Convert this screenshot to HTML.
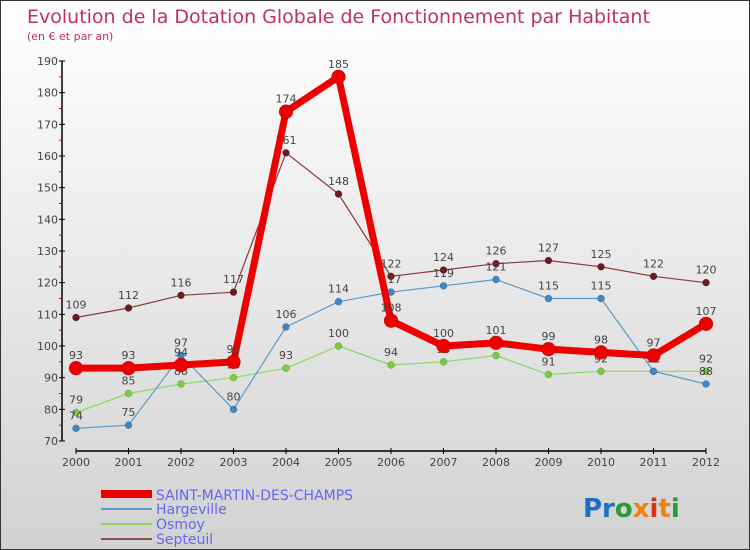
<!DOCTYPE html>
<html><head><meta charset="utf-8"><style>
body{margin:0}
#c{width:748px;height:548px;border:1px solid #333;background:linear-gradient(#ffffff,#d2d2d2);position:relative;font-family:"DejaVu Sans","Liberation Sans",sans-serif;overflow:hidden}
svg text{font-family:"DejaVu Sans","Liberation Sans",sans-serif}
</style></head><body>
<div id="c">
<svg id="s" width="748" height="548">
<text x="26" y="22" font-size="19" fill="#c03060">Evolution de la Dotation Globale de Fonctionnement par Habitant</text>
<text x="26" y="39" font-size="11" fill="#c03060">(en € et par an)</text>
<g id="axes"></g><g id="series"></g>
<g>
<rect x="100" y="489" width="51" height="8" fill="#ee0000"/>
<text x="155" y="499" font-size="14" fill="#6666ee">SAINT-MARTIN-DES-CHAMPS</text>
<line x1="100" y1="508" x2="151" y2="508" stroke="#5b9ac8" stroke-width="2"/>
<text x="155" y="513" font-size="14" fill="#6666ee">Hargeville</text>
<line x1="100" y1="523" x2="151" y2="523" stroke="#8ed860" stroke-width="2"/>
<text x="155" y="528" font-size="14" fill="#6666ee">Osmoy</text>
<line x1="100" y1="538" x2="151" y2="538" stroke="#8a5050" stroke-width="2"/>
<text x="155" y="543" font-size="14" fill="#6666ee">Septeuil</text>
</g>
<text x="582" y="516" font-size="26" font-family="Liberation Sans" font-weight="bold"><tspan fill="#1a70c8">Pr</tspan><tspan fill="#2a9a3a">o</tspan><tspan fill="#f08010">x</tspan><tspan fill="#e03010">i</tspan><tspan fill="#f08010">t</tspan><tspan fill="#2a9a3a">i</tspan></text>
</svg></div>
<script>
const years=["2000","2001","2002","2003","2004","2005","2006","2007","2008","2009","2010","2011","2012"];
const yTicks=[70,80,90,100,110,120,130,140,150,160,170,180,190];
const saint=[93,93,94,95,174,185,108,100,101,99,98,97,107];
const harge=[74,75,97,80,106,114,117,119,121,115,115,92,88];
const osmoy=[79,85,88,90,93,100,94,95,97,91,92,92,92];
const septeuil=[109,112,116,117,161,148,122,124,126,127,125,122,120];
const NS="http://www.w3.org/2000/svg";
const X=i=>75+i*52.5, Y=v=>440-(v-70)*(380/120);
function mk(t,a,p){const e=document.createElementNS(NS,t);for(const k in a)e.setAttribute(k,a[k]);p.appendChild(e);return e;}
const ax=document.getElementById('axes');
let l=mk('line',{x1:61,y1:60,x2:61,y2:440,stroke:'#000','stroke-width':1.5},ax);


l=mk('line',{x1:75,y1:450,x2:705,y2:450,stroke:'#000','stroke-width':1.5},ax);


yTicks.forEach((v,i)=>{mk('line',{x1:58,y1:Y(v),x2:64,y2:Y(v),stroke:'#000'},ax);
 if(i<yTicks.length-1)mk('line',{x1:58,y1:Y(v+5),x2:61,y2:Y(v+5),stroke:'#e00'},ax);
 const t=mk('text',{x:57,y:Y(v)+4,'font-size':11,fill:'#444','text-anchor':'end'},ax);t.textContent=v;
 
 });
years.forEach((y,i)=>{mk('line',{x1:X(i),y1:447,x2:X(i),y2:453,stroke:'#000'},ax);
 const t=mk('text',{x:X(i),y:465,'font-size':11,fill:'#444','text-anchor':'middle'},ax);t.textContent=y;
 
 });
const sg=document.getElementById('series');
function draw(data,name,color,w,r,dot){
 const g=mk('g',{},sg);
 
 
 mk('polyline',{points:data.map((v,i)=>X(i)+','+Y(v)).join(' '),fill:'none',stroke:color,'stroke-width':w,'stroke-linejoin':'round'},g);
 data.forEach((v,i)=>{const c=mk('circle',{cx:X(i),cy:Y(v),r:r,fill:dot,stroke:'rgba(0,0,0,0.3)','stroke-width':0.5},g);
  
  
  const t=mk('text',{x:X(i),y:Y(v)-9,'font-size':11,fill:'#444','text-anchor':'middle'},g);t.textContent=v;
  
  });
}
draw(septeuil,'septeuil','#8a3a3a',1.2,3.5,'#6a1a20');
draw(osmoy,'osmoy','#8ed860',1.2,3.5,'#7acc40');
draw(harge,'hargeville','#5b9ac8',1.2,3.5,'#3a88c8');
draw(saint,'saint-martin','#ee0000',7,7,'#ee0000');
</script>
</body></html>
